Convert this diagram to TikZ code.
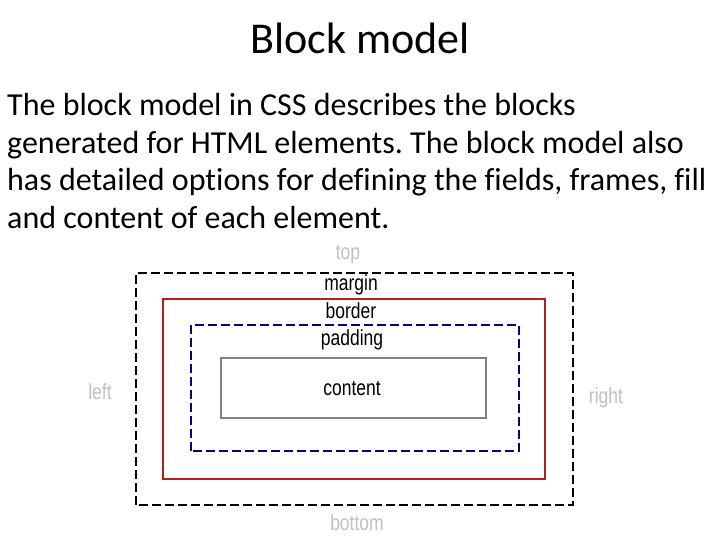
\documentclass[tikz,border=0pt]{standalone}
\usepackage{fontspec}
\setmainfont[Ligatures=NoCommon]{Carlito}
\newfontfamily\boxfont{Liberation Sans}
\frenchspacing
\definecolor{hintgray}{RGB}{192,192,192}
\definecolor{borderred}{RGB}{185,30,30}
\definecolor{paddingblue}{RGB}{0,0,128}
\definecolor{contentgray}{RGB}{128,128,128}
\tikzset{
  boxlabel/.style={font=\boxfont\fontsize{17.5}{20}\selectfont, inner sep=0pt, yscale=1.25, transform shape},
  sidelabel/.style={boxlabel, text=hintgray},
  bodyline/.style={font=\fontsize{32}{37.6}\selectfont, anchor=base west, inner sep=0pt},
  dashline/.style={dash pattern=on 9pt off 4pt, line width=1.6pt},
}
\begin{document}
\begin{tikzpicture}[x=1pt, y=1pt]
    \useasboundingbox (0,0) rectangle (720,540);
    \node[font=\fontsize{44}{50}\selectfont, anchor=base, inner sep=0pt] (title) at (360,486.7) {Block model};
    \node[bodyline] (line1) at (7,424) {The block model in CSS describes the blocks};
    \node[bodyline] (line2) at (7,386.7) {generated for HTML elements. The block model also};
    \node[bodyline] (line3) at (7,349) {has detailed options for defining the fields, frames, fill};
    \node[bodyline] (line4) at (7,311.3) {and content of each element.};
    % Cajas anidadas: margen, borde, relleno y contenido.
    \draw[dashline, black] (136,35) rectangle (573,267);
    \draw[borderred, line width=1.8pt] (163,61) rectangle (545,241);
    \draw[dashline, paddingblue] (191,89) rectangle (519,215);
    \draw[contentgray, line width=1.2pt] (221,122) rectangle (486,182);
    \node[boxlabel] (margin) at (351,255) {margin};
    \node[boxlabel] (border) at (351,229) {border};
    \node[boxlabel] (padding) at (352,200) {padding};
    \node[boxlabel] (content) at (352,151) {content};
    \node[sidelabel] (top) at (348,285) {top};
    \node[sidelabel] (left) at (100,148) {left};
    \node[sidelabel] (right) at (606,142) {right};
    \node[sidelabel] (bottom) at (357,17) {bottom};
\end{tikzpicture}
\end{document}
